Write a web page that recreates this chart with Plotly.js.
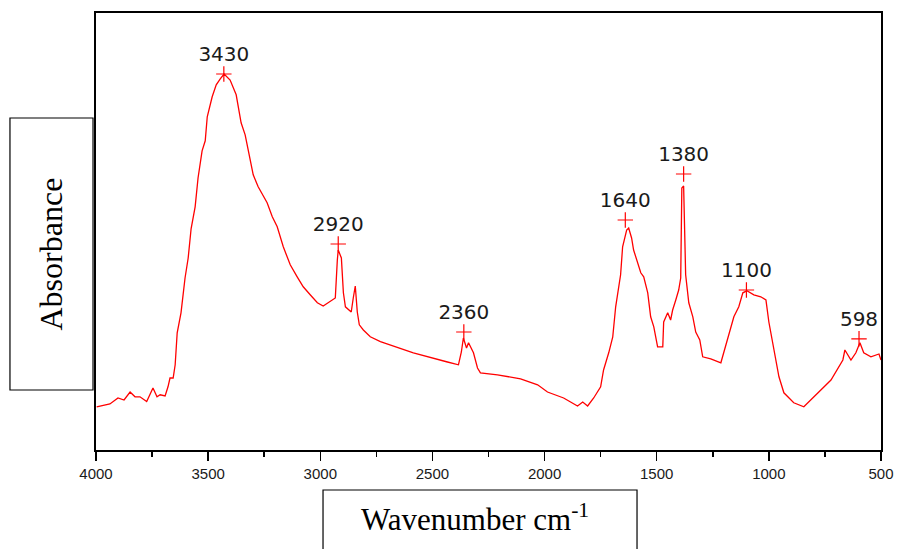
<!DOCTYPE html>
<html>
<head>
<meta charset="utf-8">
<script src="https://cdn.plot.ly/plotly-3.0.1.min.js"></script>
<style>html,body{margin:0;padding:0;background:#fff;}#chart{width:901px;height:549px;}</style>
</head>
<body>
<div id="chart"></div>
<script>
// FTIR spectrum (wavenumber, cm^-1) and absorbance (arbitrary units)
const wavenumber = [3997,3938,3902,3875,3848,3826,3804,3774,3746,3728,3714,3692,3679,3670,3656,3647,3638,3621,3603,3589,3576,3558,3545,3527,3513,3504,3482,3464,3446,3429,3402,3375,3353,3335,3317,3299,3277,3237,3214,3192,3165,3134,3103,3076,3045,3013,2987,2964,2933,2924,2920,2906,2897,2888,2862,2853,2844,2835,2826,2808,2777,2732,2688,2585,2433,2384,2371,2362,2348,2339,2317,2299,2286,2210,2107,2031,1987,1915,1853,1830,1808,1781,1750,1737,1714,1696,1683,1674,1661,1652,1643,1634,1625,1612,1603,1585,1571,1558,1540,1527,1513,1496,1473,1469,1451,1438,1429,1415,1402,1393,1388,1380,1371,1357,1339,1326,1308,1295,1259,1214,1201,1179,1156,1134,1116,1098,1067,1036,1013,1000,978,955,933,889,844,813,768,723,670,661,634,612,594,577,545,509,500];
const absorbance = [0.108,0.115,0.130,0.125,0.145,0.133,0.133,0.121,0.155,0.133,0.138,0.135,0.158,0.180,0.180,0.213,0.293,0.343,0.430,0.480,0.553,0.608,0.680,0.748,0.773,0.833,0.883,0.913,0.928,0.940,0.925,0.888,0.818,0.788,0.738,0.688,0.658,0.618,0.583,0.558,0.508,0.463,0.433,0.408,0.388,0.368,0.360,0.368,0.380,0.475,0.500,0.480,0.393,0.358,0.345,0.380,0.410,0.345,0.313,0.300,0.283,0.271,0.263,0.243,0.220,0.213,0.245,0.280,0.255,0.268,0.243,0.205,0.193,0.188,0.178,0.163,0.145,0.130,0.110,0.120,0.110,0.130,0.158,0.200,0.243,0.283,0.358,0.393,0.438,0.508,0.533,0.550,0.555,0.530,0.500,0.468,0.443,0.433,0.393,0.333,0.308,0.258,0.258,0.320,0.343,0.325,0.350,0.375,0.400,0.430,0.655,0.660,0.438,0.368,0.333,0.295,0.275,0.233,0.228,0.218,0.245,0.288,0.333,0.358,0.393,0.398,0.388,0.383,0.375,0.320,0.250,0.183,0.143,0.118,0.108,0.125,0.150,0.175,0.225,0.250,0.225,0.243,0.268,0.243,0.233,0.240,0.225];

// Marked peaks
const peakWn = [3430, 2920, 2360, 1640, 1380, 1100, 598];
const peakA = [0.940, 0.515, 0.295, 0.575, 0.690, 0.400, 0.278];
const peakLabels = ["3430", "2920", "2360", "1640", "1380", "1100", "598"];

// Axis ticks
const tickVals = [4000, 3500, 3000, 2500, 2000, 1500, 1000, 500];
const tickText = ["4000", "3500", "3000", "2500", "2000", "1500", "1000", "500"];

const traces = [
  {
    x: wavenumber, y: absorbance, type: 'scatter', mode: 'lines',
    line: {color: '#ff0000', width: 1.3}, hoverinfo: 'skip', showlegend: false
  },
  {
    x: peakWn, y: peakA, type: 'scatter', mode: 'markers+text',
    text: peakLabels, textposition: 'top center',
    textfont: {family: 'DejaVu Sans, Verdana, sans-serif', size: 20, color: '#1a1a1a'},
    marker: {symbol: 'cross-thin', size: 11, line: {color: '#ff0000', width: 1.2}, color: '#ff0000'},
    cliponaxis: false, showlegend: false, hoverinfo: 'skip'
  }
];

const layout = {
  width: 901, height: 549,
  margin: {l: 96, r: 20, t: 13, b: 99, pad: 0},
  paper_bgcolor: '#ffffff', plot_bgcolor: '#ffffff',
  showlegend: false,
  xaxis: {
    range: [4000, 500], showgrid: false, zeroline: false,
    showline: true, linecolor: '#000', linewidth: 2, mirror: true,
    ticks: 'outside', ticklen: 9, tickwidth: 1.5, tickcolor: '#000',
    tickvals: tickVals, ticktext: tickText,
    tickfont: {family: 'Liberation Sans, Arial, sans-serif', size: 15, color: '#1a1a1a'},
    minor: {dtick: 250, ticks: 'outside', ticklen: 5, tickwidth: 1.5, tickcolor: '#000', showgrid: false}
  },
  yaxis: {
    range: [0, 1.0925], showgrid: false, zeroline: false,
    showline: true, linecolor: '#000', linewidth: 2, mirror: true,
    ticks: '', showticklabels: false
  },
  shapes: [
    {type: 'rect', xref: 'paper', yref: 'paper', x0: -0.1096, x1: -0.0038, y0: 0.1373, y1: 0.7597,
     line: {color: '#000', width: 1.2}, fillcolor: 'rgba(0,0,0,0)'},
    {type: 'rect', xref: 'paper', yref: 'paper', x0: 0.2892, x1: 0.6892, y0: -0.0915, y1: -0.26,
     line: {color: '#000', width: 1.2}, fillcolor: 'rgba(0,0,0,0)'}
  ],
  annotations: [
    {text: 'Absorbance', xref: 'paper', yref: 'paper', x: -0.0567, y: 0.4485,
     textangle: -90, showarrow: false, xanchor: 'center', yanchor: 'middle',
     font: {family: 'Liberation Serif, Times New Roman, serif', size: 32, color: '#000'}},
    {text: 'Wavenumber cm<sup>-1</sup>', xref: 'paper', yref: 'paper', x: 0.4828, y: -0.1556,
     showarrow: false, xanchor: 'center', yanchor: 'middle',
     font: {family: 'Liberation Serif, Times New Roman, serif', size: 31, color: '#000'}}
  ]
};

Plotly.newPlot('chart', traces, layout, {displayModeBar: false, staticPlot: true});
</script>
</body>
</html>
